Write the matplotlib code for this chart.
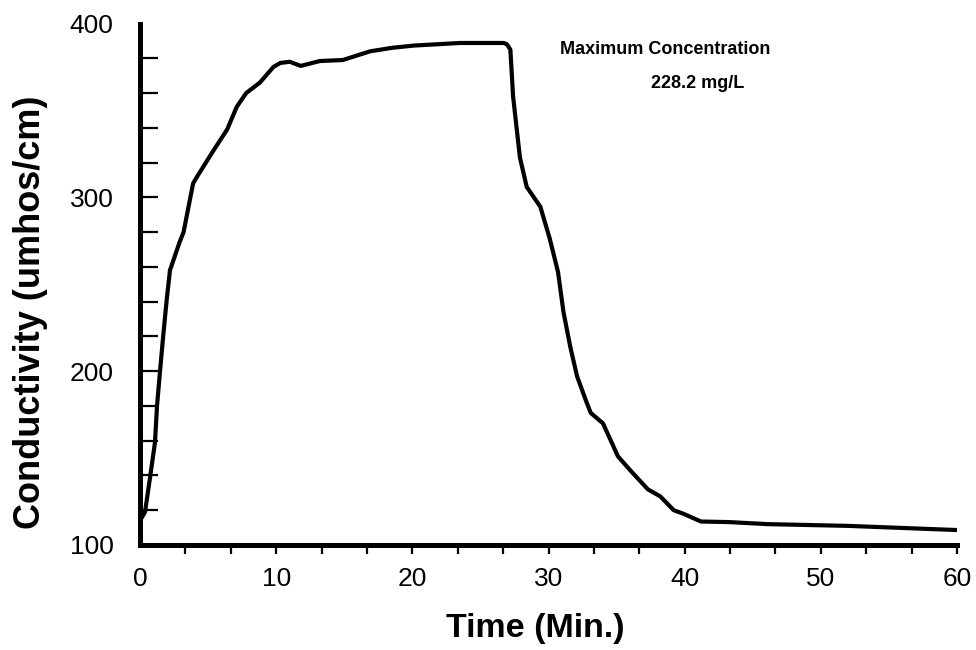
import numpy as np
import matplotlib
matplotlib.use("Agg")
import matplotlib.pyplot as plt
from matplotlib.ticker import FixedLocator

# conductivity trace
time_min = [0, 0.37, 0.74, 1.1, 1.25, 1.47, 1.7, 1.96, 2.2, 2.9, 3.2, 3.9, 4.2,
            5.4, 6.4, 7.1, 7.8, 8.8, 9.8, 10.3, 11.0, 11.8, 13.2, 14.9, 16.9,
            18.5, 20.1, 23.5, 26.7, 26.95, 27.2, 27.4, 27.7, 27.9, 28.4, 29.4,
            30.1, 30.7, 31.1, 31.6, 32.1, 32.8, 33.1, 34.0, 35.1, 36.0, 37.3,
            38.2, 39.2, 39.9, 41.2, 43.2, 46.1, 52.0, 60.0]
conductivity = [114, 119, 139, 159, 180, 200, 220, 241, 258, 274, 280, 308, 312,
                327, 339, 352, 360, 366, 375, 377.3, 378, 375.6, 378.4, 379, 384,
                386, 387.3, 388.8, 388.8, 388, 385, 358, 337, 323, 306, 294.6,
                276, 257, 234, 214, 197, 182, 176, 170, 151, 143, 132,
                128, 120, 118, 113.5, 113.2, 112, 111, 108.6]

x_labels = [0, 10, 20, 30, 40, 50, 60]
y_labels = [100, 200, 300, 400]

plt.rcParams['font.family'] = ['Liberation Sans', 'DejaVu Sans']

fig = plt.figure(figsize=(9.76, 6.5), dpi=100)
ax = fig.add_axes([140 / 976, 1 - 545 / 650, (957 - 140) / 976, (545 - 23.5) / 650])

ax.plot(time_min, conductivity, color='black', lw=3.0,
        solid_joinstyle='round', solid_capstyle='round')

ax.set_xlim(0, 60)
ax.set_ylim(100, 400)

for side in ['top', 'right']:
    ax.spines[side].set_visible(False)
for side in ['left', 'bottom']:
    ax.spines[side].set_linewidth(3.6)
    ax.spines[side].set_capstyle('projecting')

# x: labels every 10, tick marks every 10/3
ax.xaxis.set_major_locator(FixedLocator(x_labels))
ax.xaxis.set_minor_locator(FixedLocator(list(np.arange(1, 19) * 10 / 3)))
ax.xaxis.remove_overlapping_locs = False
ax.tick_params(axis='x', which='major', length=0, pad=16, labelsize=19)
ax.tick_params(axis='x', which='minor', direction='out', length=6.5, width=1.6)

# y: labels every 100, tick marks every 20 pointing inward
ax.yaxis.set_major_locator(FixedLocator(y_labels))
ax.yaxis.set_minor_locator(FixedLocator(list(range(120, 400, 20))))
ax.yaxis.remove_overlapping_locs = False
ax.tick_params(axis='y', which='major', length=0, pad=19, labelsize=19)
ax.tick_params(axis='y', which='minor', direction='in', length=13, width=1.6)

fig.text(535 / 976, 1 - 628 / 650, 'Time (Min.)', ha='center', va='center',
         fontsize=24.5, fontweight='bold')
fig.text(31 / 976, 1 - 312 / 650, 'Conductivity (umhos/cm)', ha='center', va='center',
         rotation=90, fontsize=26, fontweight='bold')

fig.text(665 / 976, 1 - 50 / 650, 'Maximum Concentration',
         ha='center', va='center', fontsize=13, fontweight='bold')
fig.text(698 / 976, 1 - 83 / 650, '228.2 mg/L',
         ha='center', va='center', fontsize=13, fontweight='bold')

fig.savefig('out.png', dpi=100)
